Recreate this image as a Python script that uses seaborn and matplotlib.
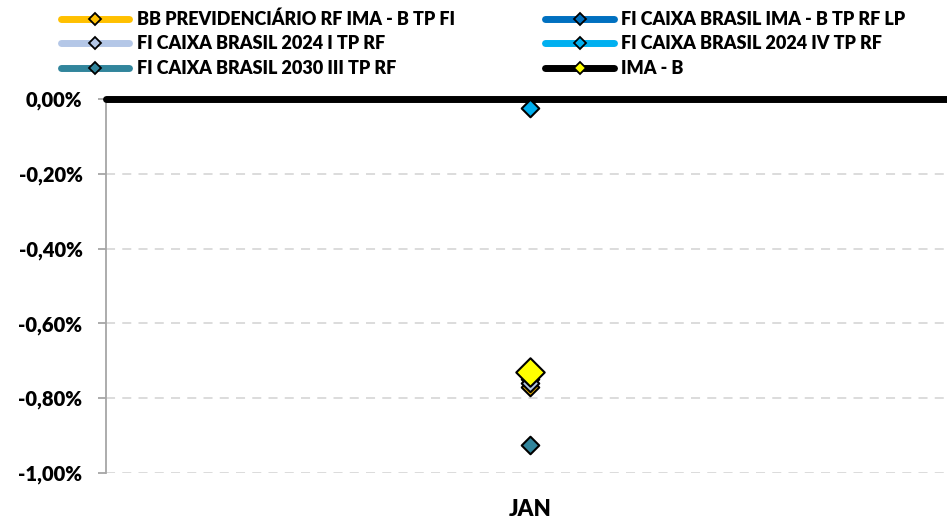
import matplotlib
matplotlib.use("Agg")
import matplotlib.pyplot as plt
from matplotlib.lines import Line2D
from matplotlib.ticker import FuncFormatter
import seaborn as sns
import pandas as pd

months = ["JAN"]
series = [
    "BB PREVIDENCIÁRIO RF IMA - B TP FI",
    "FI CAIXA BRASIL IMA - B TP RF LP",
    "FI CAIXA BRASIL 2024 I TP RF",
    "FI CAIXA BRASIL 2024 IV TP RF",
    "FI CAIXA BRASIL 2030 III TP RF",
    "IMA - B",
]
bb_prev = [-0.77]
caixa_imab = [-0.75]
caixa_2024_i = [-0.76]
caixa_2024_iv = [-0.025]
caixa_2030_iii = [-0.925]
ima_b = [-0.73]
values = [bb_prev, caixa_imab, caixa_2024_i, caixa_2024_iv, caixa_2030_iii, ima_b]

line_colors = ["#FFC000", "#0070C0", "#B4C7E7", "#00B0F0", "#31859C", "#000000"]
marker_colors = ["#FFC000", "#0070C0", "#B4C7E7", "#00B0F0", "#31859C", "#FFFF00"]
marker_sizes = [80, 80, 80, 80, 80, 210]

rows = []
for s, vals in zip(series, values):
    for m, v in zip(months, vals):
        rows.append({"series": s, "month": m, "value": v})
df = pd.DataFrame(rows)

sns.set_style("white")
plt.rcParams["font.family"] = ["Lato", "DejaVu Sans"]
plt.rcParams["font.weight"] = "bold"
plt.rcParams["text.color"] = "black"
plt.rcParams["xtick.color"] = "black"
plt.rcParams["ytick.color"] = "black"

fig = plt.figure(figsize=(9.47, 5.21), dpi=100)
ax = fig.add_axes([0.112, 0.0921, 0.888, 0.718])

order = [0, 2, 1, 4, 3, 5]
for i in order:
    sub = df[df["series"] == series[i]]
    sns.scatterplot(data=sub, x="month", y="value", ax=ax, marker="D",
                    s=marker_sizes[i], color=marker_colors[i],
                    edgecolor="black", linewidth=1.5, zorder=5 + i, legend=False)

ax.set_xlim(-0.504, 0.496)
ax.set_ylim(-1.0, 0.0)
ax.set_yticks([0, -0.2, -0.4, -0.6, -0.8, -1.0])
ax.yaxis.set_major_formatter(FuncFormatter(lambda v, p: f"{v:.2f}%".replace(".", ",")))
ax.set_xlabel("")
ax.set_ylabel("")
ax.grid(axis="y", color="#D9D9D9", linestyle=(0, (5, 4)), linewidth=1.3)
ax.grid(axis="x", visible=False)
for sp in ["right", "bottom", "top"]:
    ax.spines[sp].set_visible(False)
ax.spines["left"].set_color("#A6A6A6")
ax.spines["left"].set_linewidth(1.3)
ax.axhline(0, color="black", linewidth=5, zorder=4, clip_on=False)
ax.tick_params(axis="y", left=True, length=6, width=1.3, color="#A6A6A6",
               labelcolor="black", labelsize=14.5, pad=11)
ax.tick_params(axis="x", bottom=False, length=0, labelcolor="black", labelsize=16, pad=19)
for lbl in ax.get_yticklabels() + ax.get_xticklabels():
    lbl.set_fontweight("heavy")

handles = [Line2D([0], [0], color=lc, lw=5, solid_capstyle="round", marker="D",
                  markersize=6, markerfacecolor=mc, markeredgecolor="black",
                  markeredgewidth=1.3)
           for lc, mc in zip(line_colors, marker_colors)]
# matplotlib fills legend columns first; reorder so rows read like the reference
leg_order = [0, 2, 4, 1, 3, 5]
leg = fig.legend([handles[i] for i in leg_order], [series[i] for i in leg_order],
                 loc="upper left", bbox_to_anchor=(0.0565, 0.994), borderaxespad=0,
                 ncol=2, frameon=False, handlelength=3.8, handletextpad=0.42,
                 columnspacing=5.0, labelspacing=0.42,
                 prop={"weight": "heavy", "size": 13})

fig.savefig("out.png", dpi=100)
